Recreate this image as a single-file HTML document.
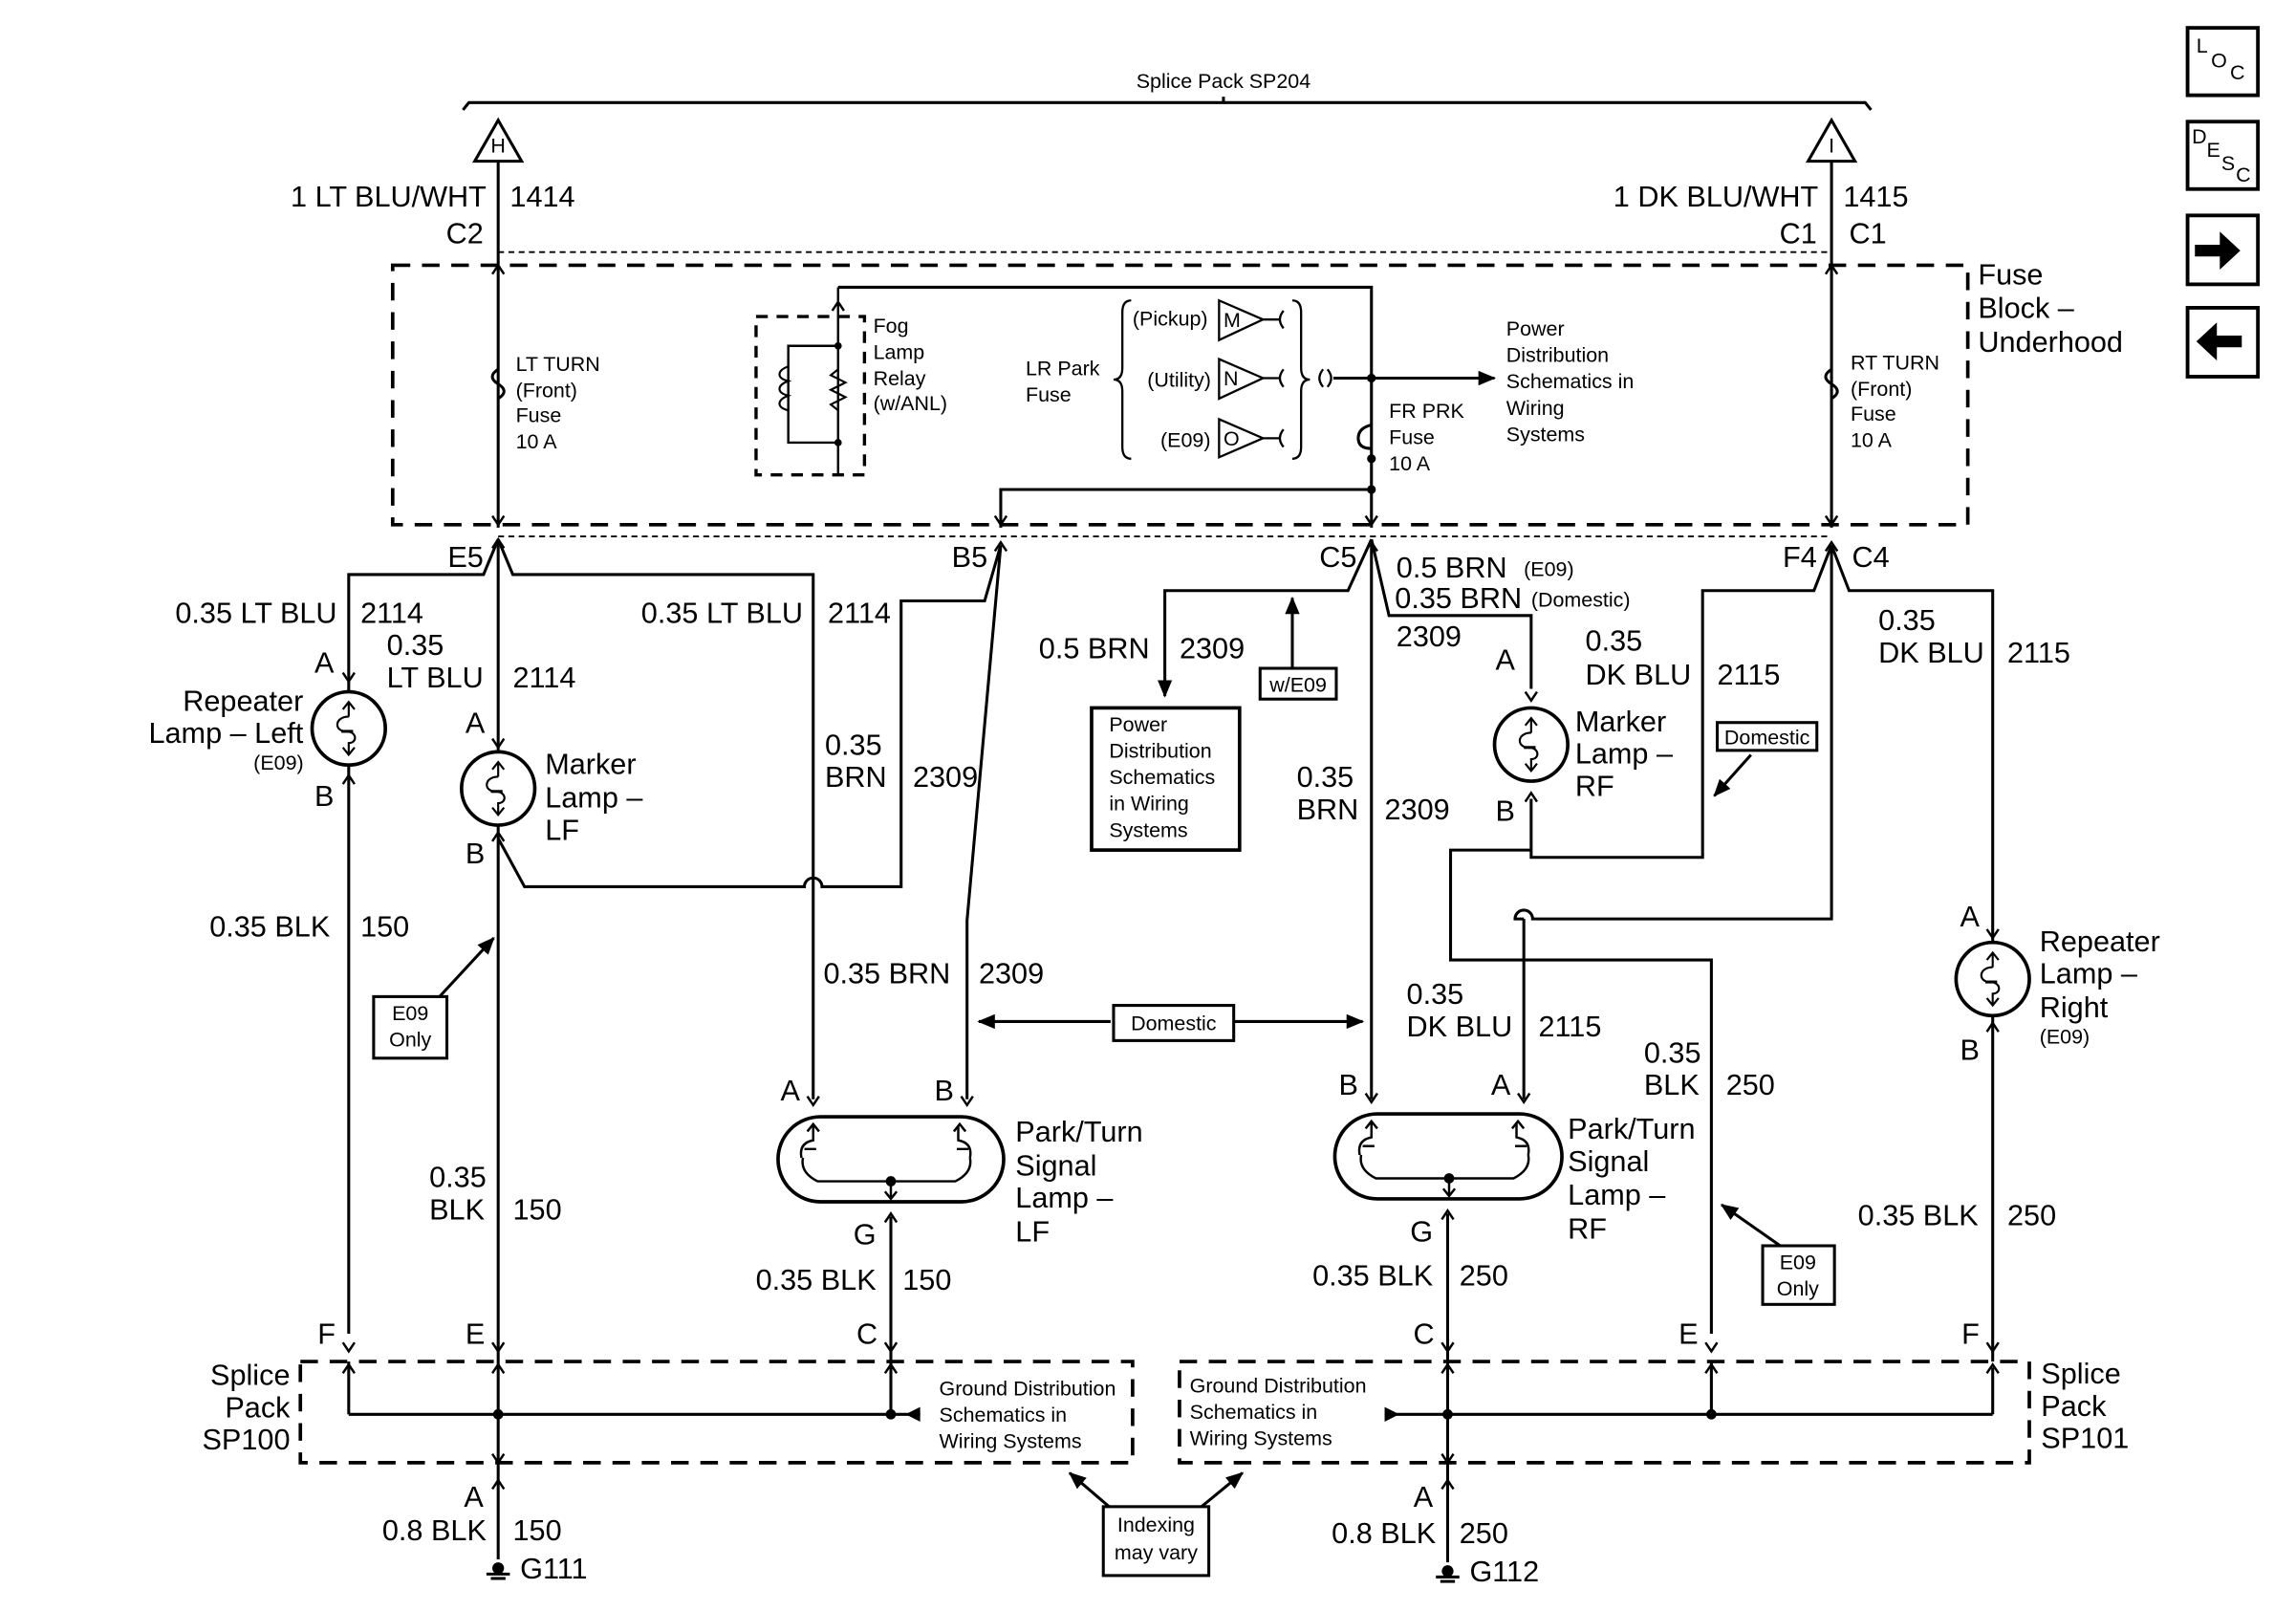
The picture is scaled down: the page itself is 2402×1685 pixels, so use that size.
<!DOCTYPE html>
<html><head><meta charset="utf-8"><style>
html,body{margin:0;padding:0;background:#fff}
svg{display:block}
text{font-family:"Liberation Sans",Arial,sans-serif;fill:#000}
.L{font-size:20px}.S{font-size:14px}
</style></head><body>
<svg width="2402" height="1685" viewBox="0 0 1567 1099.2" preserveAspectRatio="none" xmlns="http://www.w3.org/2000/svg">
<defs>
<marker id="ah2" markerWidth="12" markerHeight="10" refX="11" refY="5" orient="auto" markerUnits="userSpaceOnUse"><path d="M0,0 L12,5 L0,10 z" fill="#000"/></marker>
<g id="chev"><polyline points="-4,-4 0,2 4,-4" fill="none" stroke="#000" stroke-width="1.6"/></g>
<g id="chevu"><polyline points="-4,4 0,-2 4,4" fill="none" stroke="#000" stroke-width="1.6"/></g>
<g id="bulb"><circle r="25" fill="#fff" stroke="#000" stroke-width="2.4"/><line x1="0" y1="-18" x2="0" y2="-8" stroke="#000" stroke-width="1.4"/><polyline points="-4,-13 0,-18 4,-13" fill="none" stroke="#000" stroke-width="1.4"/><path d="M0,-8 C-10,-8 -10,2 -2,2 C6,2 6,10 0,10 L0,18" fill="none" stroke="#000" stroke-width="1.4"/><path d="M-5,2 h8" stroke="#000" stroke-width="2"/><polyline points="-4,13 0,18 4,13" fill="none" stroke="#000" stroke-width="1.4"/></g>
<g id="gnd"><line x1="-8" y1="0" x2="8" y2="0" stroke="#000" stroke-width="2"/><line x1="-5" y1="3" x2="5" y2="3" stroke="#000" stroke-width="2"/><circle cy="-4" r="4" fill="#000"/></g>
<g id="park"><path d="M24,6 v10 q-10,2 -8,12 M18,22 h8 M17,28 q-2,10 10,16 h94 q12,-6 10,-16 M122,22 h8 M131,28 q2,-10 -8,-12 v-10" fill="none" stroke="#000" stroke-width="1.6"/><polyline points="20,10 24,5 28,10" fill="none" stroke="#000" stroke-width="1.6"/><polyline points="120,10 124,5 128,10" fill="none" stroke="#000" stroke-width="1.6"/><circle cx="77" cy="44" r="3.5" fill="#000"/><line x1="77" y1="44" x2="77" y2="56" stroke="#000" stroke-width="1.6"/><polyline points="73,51 77,56 81,51" fill="none" stroke="#000" stroke-width="1.6"/></g>
</defs>
<g stroke="#000" stroke-width="2" fill="none">
<polyline points="316,75 320,70 1273,70 1277,75"/>
<line x1="835" y1="70" x2="835" y2="66"/>
<polygon points="340,82 324,110 356,110"/>
<polygon points="1250,82 1234,110 1266,110"/>
<line x1="340" y1="110" x2="340" y2="360"/>
<line x1="1250" y1="110" x2="1250" y2="360"/>
<line x1="340" y1="172" x2="1250" y2="172" stroke-dasharray="4,3" stroke-width="1.2"/>
<rect x="268" y="181" width="1075" height="177" stroke-dasharray="12,8" stroke-width="2.4"/>
<rect x="516" y="216" width="74" height="108" stroke-dasharray="8,6" stroke-width="2.2"/>
<polyline points="572,196 572,324" stroke-width="1.6"/>
<polyline points="572,236 538,236 538,302 572,302" stroke-width="1.6"/>
<path d="M538,250 c-8,3 -8,8 0,10 c-8,3 -8,8 0,10 c-8,3 -8,8 0,10" stroke-width="1.4"/>
<path d="M572,252 l-5,4 l10,5 l-10,5 l10,5 l-10,5 l5,4" stroke-width="1.4"/>
<polyline points="572,196 936,196 936,360"/>
<path d="M772,205 q-6,0 -6,8 v38 q0,8 -6,8 q6,0 6,8 v38 q0,8 6,8" stroke-width="1.5"/>
<path d="M882,205 q6,0 6,8 v38 q0,8 6,8 q-6,0 -6,8 v38 q0,8 -6,8" stroke-width="1.5"/>
<polygon points="832,205 862,218 832,232" stroke-width="1.5"/>
<polygon points="832,245 862,258 832,272" stroke-width="1.5"/>
<polygon points="832,286 862,299 832,312" stroke-width="1.5"/>
<path d="M862,218 h12 M876,212 q-5,6 0,12 M862,258 h12 M876,252 q-5,6 0,12 M862,299 h12 M876,293 q-5,6 0,12" stroke-width="1.5"/>
<path d="M903,252 q-5,6 0,12 M906,252 q5,6 0,12" stroke-width="1.5"/>
<line x1="910" y1="258" x2="1020" y2="258" marker-end="url(#ah2)"/>
<path d="M340,252 q-8,5 0,10 q8,5 0,10" stroke-width="2"/>
<path d="M1250,252 q-8,5 0,10 q8,5 0,10" stroke-width="2"/>
<path d="M936,290 q-9,2 -9,9 q0,7 9,7" stroke-width="2"/>
<polyline points="936,334 683,334 683,360" />
<line x1="340" y1="366" x2="1250" y2="366" stroke-dasharray="4,3" stroke-width="1.2"/>
<polyline points="340,368 330,392 238,392 238,910"/>
<polyline points="340,368 350,392 555,392 555,750"/>
<line x1="340" y1="368" x2="340" y2="512"/>
<line x1="340" y1="563" x2="340" y2="998"/>
<path d="M340,572 L358,605 L549,605 a6,6 0 0 1 12,0 L615,605 L615,410 L672,410 L683,372"/>
<polyline points="683,372 660,628 660,750"/>
<polyline points="936,368 920,403 795,403 795,475" marker-end="url(#ah2)"/>
<line x1="882" y1="456" x2="882" y2="408" marker-end="url(#ah2)"/>
<line x1="936" y1="368" x2="936" y2="750"/>
<polyline points="936,368 948,420 1045,420 1045,470"/>
<polyline points="1045,545 1045,585 1162,585 1162,403 1238,403 1250,372"/>
<polyline points="1045,580 990,580 990,655 1168,655 1168,910"/>
<path d="M1250,372 L1250,627 L1046,627 a6,6 0 0 0 -12,0 L1040,627"/>
<polyline points="1040,627 1040,750"/>
<polyline points="1250,372 1262,403 1360,403 1360,642"/>
<line x1="1360" y1="694" x2="1360" y2="929"/>
<line x1="1360" y1="933" x2="1360" y2="965"/>
<line x1="1195" y1="515" x2="1170" y2="543" marker-end="url(#ah2)"/>
<line x1="1215" y1="850" x2="1175" y2="822" marker-end="url(#ah2)"/>
<line x1="300" y1="680" x2="337" y2="640" marker-end="url(#ah2)"/>
<line x1="758" y1="697" x2="668" y2="697" marker-end="url(#ah2)"/>
<line x1="842" y1="697" x2="930" y2="697" marker-end="url(#ah2)"/>
<rect x="531" y="762" width="154" height="58" rx="29" stroke-width="2.4"/>
<rect x="911" y="760" width="155" height="58" rx="29" stroke-width="2.4"/>
<line x1="608" y1="830" x2="608" y2="965"/>
<line x1="988" y1="828" x2="988" y2="998"/>
<rect x="205" y="929" width="568" height="69" stroke-dasharray="12,8" stroke-width="2.4"/>
<rect x="805" y="929" width="580" height="69" stroke-dasharray="12,8" stroke-width="2.4"/>
<line x1="238" y1="929" x2="238" y2="965"/>
<line x1="238" y1="965" x2="628" y2="965"/>
<line x1="945" y1="965" x2="1360" y2="965"/>
<line x1="1168" y1="929" x2="1168" y2="965"/>
<line x1="340" y1="998" x2="340" y2="1064"/>
<line x1="988" y1="998" x2="988" y2="1066"/>
<line x1="757" y1="1028" x2="730" y2="1005" marker-end="url(#ah2)"/>
<line x1="820" y1="1028" x2="848" y2="1005" marker-end="url(#ah2)"/>
<rect x="745" y="483" width="101" height="97" stroke-width="2.4"/>
<rect x="860" y="456" width="52" height="21" stroke-width="2"/>
<rect x="1172" y="493" width="68" height="19" stroke-width="2"/>
<rect x="255" y="680" width="50" height="42" stroke-width="2"/>
<rect x="760" y="686" width="82" height="24" stroke-width="2"/>
<rect x="1203" y="850" width="49" height="40" stroke-width="2"/>
<rect x="753" y="1028" width="72" height="47" stroke-width="2"/>
<rect x="1493" y="19" width="48" height="46" stroke-width="2.5"/>
<rect x="1493" y="83" width="48" height="46" stroke-width="2.5"/>
<rect x="1493" y="147" width="48" height="47" stroke-width="2.5"/>
<rect x="1493" y="210" width="48" height="47" stroke-width="2.5"/>
</g>
<use href="#park" x="531" y="762"/>
<use href="#park" x="912" y="760"/>
<path d="M628,960 l-10,5 l10,5z M945,960 l10,5 l-10,5z M1498,167 h17 v-9 l14,13 l-14,13 v-9 h-17z M1530,229 h-17 v-9 l-14,13 l14,13 v-9 h17z" fill="#000"/>
<g fill="#000"><circle cx="936" cy="258" r="3"/><circle cx="936" cy="313" r="3"/><circle cx="936" cy="334" r="3"/><circle cx="340" cy="965" r="3.5"/><circle cx="608" cy="965" r="3.5"/><circle cx="988" cy="965" r="3.5"/><circle cx="1168" cy="965" r="3.5"/><circle cx="572" cy="236" r="2.5"/><circle cx="572" cy="302" r="2.5"/></g>
<use href="#chevu" x="340" y="183"/><use href="#chevu" x="1250" y="183"/><use href="#chevu" x="572" y="208"/>
<use href="#chev" x="340" y="356"/><use href="#chev" x="1250" y="356"/><use href="#chev" x="683" y="356"/><use href="#chev" x="936" y="356"/>
<use href="#chevu" x="340" y="370"/><use href="#chevu" x="683" y="372"/><use href="#chevu" x="936" y="372"/><use href="#chevu" x="1250" y="372"/>
<use href="#chev" x="238" y="463"/><use href="#chevu" x="238" y="531"/><use href="#chev" x="340" y="508"/><use href="#chevu" x="340" y="570"/>
<use href="#chev" x="1045" y="476"/><use href="#chevu" x="1045" y="543"/><use href="#chev" x="1360" y="638"/><use href="#chevu" x="1360" y="700"/>
<use href="#chev" x="555" y="752"/><use href="#chev" x="660" y="752"/><use href="#chev" x="936" y="750"/><use href="#chev" x="1040" y="750"/>
<use href="#chevu" x="608" y="830"/><use href="#chevu" x="988" y="828"/>
<use href="#chev" x="238" y="920"/><use href="#chev" x="340" y="920"/><use href="#chev" x="608" y="920"/><use href="#chev" x="988" y="920"/><use href="#chev" x="1168" y="920"/><use href="#chev" x="1360" y="920"/>
<use href="#chevu" x="238" y="933"/><use href="#chevu" x="340" y="933"/><use href="#chevu" x="608" y="933"/><use href="#chevu" x="988" y="933"/><use href="#chevu" x="1168" y="933"/><use href="#chevu" x="1360" y="933"/>
<use href="#chev" x="340" y="996"/><use href="#chev" x="988" y="996"/><use href="#chevu" x="340" y="1012"/><use href="#chevu" x="988" y="1012"/>
<use href="#bulb" x="238" y="497"/><use href="#bulb" x="340" y="538"/><use href="#bulb" x="1045" y="508"/><use href="#bulb" x="1360" y="668"/>
<use href="#gnd" x="340" y="1074"/><use href="#gnd" x="988" y="1076"/>
<text class="S" x="835" y="60" text-anchor="middle">Splice Pack SP204</text>
<text class="S" x="340" y="104" text-anchor="middle">H</text><text class="S" x="1250" y="104" text-anchor="middle">I</text>
<g class="L">
<text x="332" y="141" text-anchor="end">1 LT BLU/WHT</text><text x="348" y="141">1414</text><text x="330" y="166" text-anchor="end">C2</text>
<text x="1241" y="141" text-anchor="end">1 DK BLU/WHT</text><text x="1258" y="141">1415</text><text x="1240" y="166" text-anchor="end">C1</text><text x="1262" y="166">C1</text>
<text x="1350" y="194">Fuse</text><text x="1350" y="217">Block –</text><text x="1350" y="240">Underhood</text>
<text x="330" y="387" text-anchor="end">E5</text><text x="674" y="387" text-anchor="end">B5</text><text x="926" y="387" text-anchor="end">C5</text><text x="1240" y="387" text-anchor="end">F4</text><text x="1264" y="387">C4</text>
<text x="230" y="425" text-anchor="end">0.35 LT BLU</text><text x="246" y="425">2114</text>
<text x="264" y="447">0.35</text><text x="264" y="469">LT BLU</text><text x="350" y="469">2114</text>
<text x="548" y="425" text-anchor="end">0.35 LT BLU</text><text x="565" y="425">2114</text>
<text x="207" y="485" text-anchor="end">Repeater</text><text x="207" y="507" text-anchor="end">Lamp – Left</text>
<text x="228" y="459" text-anchor="end">A</text><text x="228" y="550" text-anchor="end">B</text>
<text x="331" y="500" text-anchor="end">A</text><text x="331" y="589" text-anchor="end">B</text>
<text x="372" y="528">Marker</text><text x="372" y="551">Lamp –</text><text x="372" y="573">LF</text>
<text x="563" y="515">0.35</text><text x="563" y="537">BRN</text><text x="623" y="537">2309</text>
<text x="562" y="671">0.35 BRN</text><text x="668" y="671">2309</text>
<text x="709" y="449">0.5 BRN</text><text x="805" y="449">2309</text>
<text x="953" y="394">0.5 BRN</text><text x="952" y="415">0.35 BRN</text><text x="953" y="441">2309</text>
<text x="1034" y="457" text-anchor="end">A</text><text x="1034" y="560" text-anchor="end">B</text>
<text x="1075" y="499">Marker</text><text x="1075" y="521">Lamp –</text><text x="1075" y="543">RF</text>
<text x="1082" y="444">0.35</text><text x="1082" y="467">DK BLU</text><text x="1172" y="467">2115</text>
<text x="1282" y="430">0.35</text><text x="1282" y="452">DK BLU</text><text x="1370" y="452">2115</text>
<text x="885" y="537">0.35</text><text x="885" y="559">BRN</text><text x="945" y="559">2309</text>
<text x="143" y="639">0.35 BLK</text><text x="246" y="639">150</text>
<text x="1351" y="632" text-anchor="end">A</text><text x="1351" y="723" text-anchor="end">B</text>
<text x="1392" y="649">Repeater</text><text x="1392" y="671">Lamp –</text><text x="1392" y="694">Right</text>
<text x="960" y="685">0.35</text><text x="960" y="707">DK BLU</text><text x="1050" y="707">2115</text>
<text x="1122" y="725">0.35</text><text x="1122" y="747">BLK</text><text x="1178" y="747">250</text>
<text x="546" y="751" text-anchor="end">A</text><text x="651" y="751" text-anchor="end">B</text>
<text x="927" y="747" text-anchor="end">B</text><text x="1031" y="747" text-anchor="end">A</text>
<text x="693" y="779">Park/Turn</text><text x="693" y="802">Signal</text><text x="693" y="824">Lamp –</text><text x="693" y="847">LF</text>
<text x="1070" y="777">Park/Turn</text><text x="1070" y="799">Signal</text><text x="1070" y="822">Lamp –</text><text x="1070" y="845">RF</text>
<text x="598" y="849" text-anchor="end">G</text><text x="978" y="847" text-anchor="end">G</text>
<text x="293" y="810">0.35</text><text x="293" y="832">BLK</text><text x="350" y="832">150</text>
<text x="1268" y="836">0.35 BLK</text><text x="1370" y="836">250</text>
<text x="598" y="880" text-anchor="end">0.35 BLK</text><text x="616" y="880">150</text>
<text x="978" y="877" text-anchor="end">0.35 BLK</text><text x="996" y="877">250</text>
<text x="229" y="917" text-anchor="end">F</text><text x="331" y="917" text-anchor="end">E</text><text x="599" y="917" text-anchor="end">C</text>
<text x="979" y="917" text-anchor="end">C</text><text x="1159" y="917" text-anchor="end">E</text><text x="1351" y="917" text-anchor="end">F</text>
<text x="198" y="945" text-anchor="end">Splice</text><text x="198" y="967" text-anchor="end">Pack</text><text x="198" y="989" text-anchor="end">SP100</text>
<text x="1393" y="944">Splice</text><text x="1393" y="966">Pack</text><text x="1393" y="988">SP101</text>
<text x="330" y="1028" text-anchor="end">A</text><text x="332" y="1051" text-anchor="end">0.8 BLK</text><text x="350" y="1051">150</text><text x="355" y="1077">G111</text>
<text x="978" y="1028" text-anchor="end">A</text><text x="980" y="1053" text-anchor="end">0.8 BLK</text><text x="996" y="1053">250</text><text x="1003" y="1079">G112</text>
</g>
<g class="S">
<text x="352" y="253">LT TURN</text><text x="352" y="271">(Front)</text><text x="352" y="288">Fuse</text><text x="352" y="306">10 A</text>
<text x="1263" y="252">RT TURN</text><text x="1263" y="270">(Front)</text><text x="1263" y="287">Fuse</text><text x="1263" y="305">10 A</text>
<text x="596" y="227">Fog</text><text x="596" y="245">Lamp</text><text x="596" y="263">Relay</text><text x="596" y="280">(w/ANL)</text>
<text x="700" y="256">LR Park</text><text x="700" y="274">Fuse</text>
<text x="773" y="222">(Pickup)</text><text x="783" y="264">(Utility)</text><text x="792" y="305">(E09)</text>
<text x="835" y="223">M</text><text x="835" y="263">N</text><text x="835" y="304">O</text>
<text x="1028" y="229">Power</text><text x="1028" y="247">Distribution</text><text x="1028" y="265">Schematics in</text><text x="1028" y="283">Wiring</text><text x="1028" y="301">Systems</text>
<text x="948" y="285">FR PRK</text><text x="948" y="303">Fuse</text><text x="948" y="321">10 A</text>
<text x="1040" y="393">(E09)</text><text x="1045" y="414">(Domestic)</text>
<text x="173" y="525">(E09)</text><text x="1392" y="712">(E09)</text>
<text x="757" y="499">Power</text><text x="757" y="517">Distribution</text><text x="757" y="535">Schematics</text><text x="757" y="553">in Wiring</text><text x="757" y="571">Systems</text>
<text x="886" y="472" text-anchor="middle">w/E09</text><text x="1206" y="508" text-anchor="middle">Domestic</text>
<text x="280" y="696" text-anchor="middle">E09</text><text x="280" y="714" text-anchor="middle">Only</text>
<text x="801" y="703" text-anchor="middle">Domestic</text>
<text x="1227" y="866" text-anchor="middle">E09</text><text x="1227" y="884" text-anchor="middle">Only</text>
<text x="641" y="952">Ground Distribution</text><text x="641" y="970">Schematics in</text><text x="641" y="988">Wiring Systems</text>
<text x="812" y="950">Ground Distribution</text><text x="812" y="968">Schematics in</text><text x="812" y="986">Wiring Systems</text>
<text x="789" y="1045" text-anchor="middle">Indexing</text><text x="789" y="1064" text-anchor="middle">may vary</text>
<text x="1499" y="36">L</text><text x="1509" y="46">O</text><text x="1522" y="54">C</text>
<text x="1496" y="98">D</text><text x="1506" y="107">E</text><text x="1516" y="116">S</text><text x="1526" y="124">C</text>
</g>
</svg>
</body></html>
